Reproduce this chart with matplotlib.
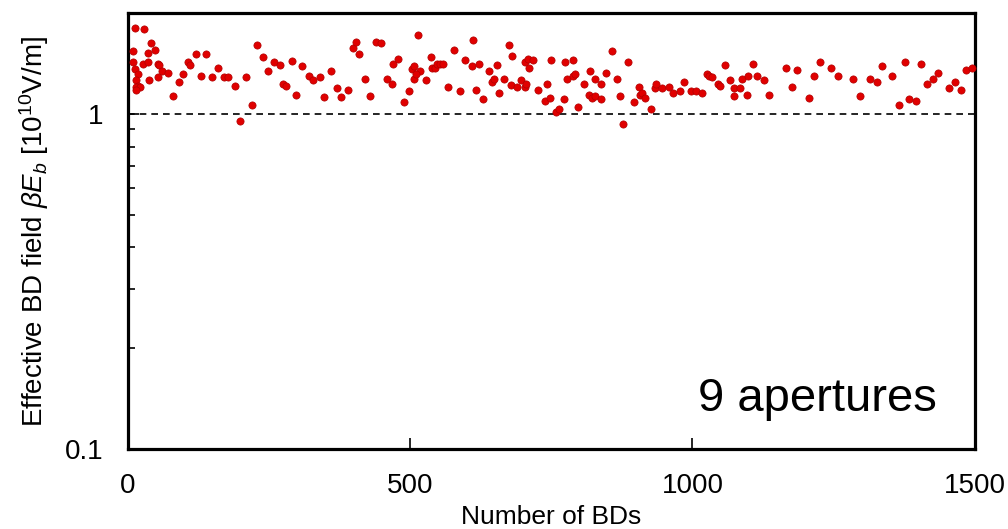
import matplotlib
matplotlib.use("Agg")
import matplotlib.pyplot as plt
from matplotlib.ticker import LogLocator, NullFormatter

plt.rcParams['font.family'] = ['Liberation Sans', 'DejaVu Sans']
plt.rcParams['mathtext.fontset'] = 'custom'
plt.rcParams['mathtext.rm'] = 'Liberation Sans'
plt.rcParams['mathtext.it'] = 'Liberation Sans:italic'

# BD index and effective breakdown field (1e10 V/m)
n_bd = [12, 29, 40, 48, 9, 35, 9, 26, 35, 53, 55, 12, 60, 18, 70, 54, 15, 37, 18, 15,
        21, 15, 79, 90, 98, 106, 109, 120, 129, 139, 148, 159, 170, 178, 190, 198, 209, 220, 228, 240,
        248, 259, 270, 290, 309, 275, 279, 298, 320, 328, 340, 348, 359, 370, 378, 390, 398, 403, 409, 420,
        428, 439, 448, 458, 467, 470, 478, 489, 497, 503, 507, 507, 514, 517, 511, 528, 536, 539, 544, 547,
        553, 558, 566, 578, 589, 597, 609, 611, 616, 622, 628, 639, 645, 648, 653, 658, 666, 675, 678, 681,
        689, 697, 703, 705, 703, 708, 711, 717, 727, 739, 742, 747, 750, 758, 764, 772, 774, 777, 789, 789,
        792, 797, 808, 816, 819, 822, 827, 827, 838, 838, 847, 858, 866, 872, 877, 885, 896, 905, 907, 910,
        916, 927, 933, 936, 946, 958, 966, 977, 985, 997, 1007, 1016, 1025, 1029, 1035, 1045, 1049, 1057, 1066, 1074,
        1074, 1085, 1088, 1096, 1099, 1107, 1115, 1126, 1135, 1165, 1177, 1185, 1207, 1215, 1226, 1246, 1257, 1285, 1296, 1315,
        1327, 1335, 1354, 1365, 1376, 1384, 1396, 1404, 1415, 1426, 1435, 1454, 1465, 1476, 1485, 1495]
field = [1.806, 1.791, 1.627, 1.558, 1.543, 1.526, 1.431, 1.415, 1.431, 1.415, 1.399, 1.359, 1.343, 1.313, 1.327, 1.286, 1.260, 1.260, 1.217, 1.206,
         1.206, 1.181, 1.131, 1.245, 1.313, 1.431, 1.399, 1.509, 1.300, 1.509, 1.286, 1.370, 1.286, 1.286, 1.217, 0.953, 1.286, 1.061, 1.608, 1.478,
         1.343, 1.431, 1.399, 1.445, 1.387, 1.231, 1.217, 1.144, 1.300, 1.260, 1.286, 1.121, 1.343, 1.193, 1.121, 1.181, 1.575, 1.646, 1.509, 1.271,
         1.131, 1.646, 1.627, 1.271, 1.231, 1.415, 1.461, 1.083, 1.168, 1.359, 1.387, 1.271, 1.718, 1.343, 1.313, 1.260, 1.478, 1.370, 1.370, 1.415,
         1.415, 1.415, 1.206, 1.558, 1.168, 1.448, 1.387, 1.661, 1.181, 1.415, 1.108, 1.343, 1.245, 1.271, 1.399, 1.155, 1.271, 1.608, 1.220, 1.495,
         1.206, 1.260, 1.206, 1.231, 1.431, 1.461, 1.370, 1.448, 1.181, 1.095, 1.231, 1.118, 1.448, 1.016, 1.037, 1.108, 1.431, 1.271, 1.448, 1.300,
         1.313, 1.049, 1.231, 1.144, 1.343, 1.118, 1.131, 1.271, 1.108, 1.231, 1.327, 1.543, 1.271, 1.131, 0.936, 1.431, 1.083, 1.206, 1.144, 1.155,
         1.118, 1.037, 1.193, 1.231, 1.193, 1.206, 1.155, 1.168, 1.245, 1.168, 1.168, 1.155, 1.313, 1.298, 1.286, 1.231, 1.217, 1.399, 1.260, 1.193,
         1.131, 1.193, 1.271, 1.144, 1.300, 1.415, 1.300, 1.260, 1.144, 1.370, 1.206, 1.355, 1.118, 1.300, 1.431, 1.370, 1.300, 1.271, 1.131, 1.271,
         1.245, 1.387, 1.300, 1.061, 1.431, 1.108, 1.095, 1.415, 1.231, 1.271, 1.327, 1.193, 1.245, 1.181, 1.355, 1.370]

fig = plt.figure(figsize=(10.08, 5.29), dpi=100)
ax = fig.add_axes([0.127, 0.151, 0.840, 0.824])

ax.scatter(n_bd, field, s=27, color='#e00000', edgecolors='#b00000', linewidths=0.5, zorder=3, clip_on=False)
ax.axhline(1.0, color='black', linestyle=(0, (4, 3)), linewidth=1.2, zorder=2)

ax.set_yscale('log')
ax.set_xlim(0, 1500)
ax.set_ylim(0.1, 2.0)
ax.set_xticks([0, 500, 1000, 1500])
ax.set_yticks([0.1, 1], ['0.1', '1'])
ax.yaxis.set_minor_locator(LogLocator(base=10, subs=range(2, 10)))
ax.yaxis.set_minor_formatter(NullFormatter())

for s in ax.spines.values():
    s.set_linewidth(2.3)
ax.tick_params(axis='both', which='major', direction='in', length=8, width=1.2, labelsize=20)
ax.tick_params(axis='x', which='major', pad=17)
ax.tick_params(axis='y', which='major', pad=18)
ax.tick_params(axis='y', which='minor', direction='in', length=5, width=1.2)

ax.set_xlabel('Number of BDs', fontsize=19)
ax.xaxis.set_label_coords(0.5, -0.128)
ax.set_ylabel(r'Effective BD field $\beta E_b$ [10$^{10}$V/m]', fontsize=20, labelpad=10)

ax.text(0.955, 0.115, '9 apertures', transform=ax.transAxes, fontsize=34, ha='right', va='center')

fig.savefig('out.png', dpi=100)
